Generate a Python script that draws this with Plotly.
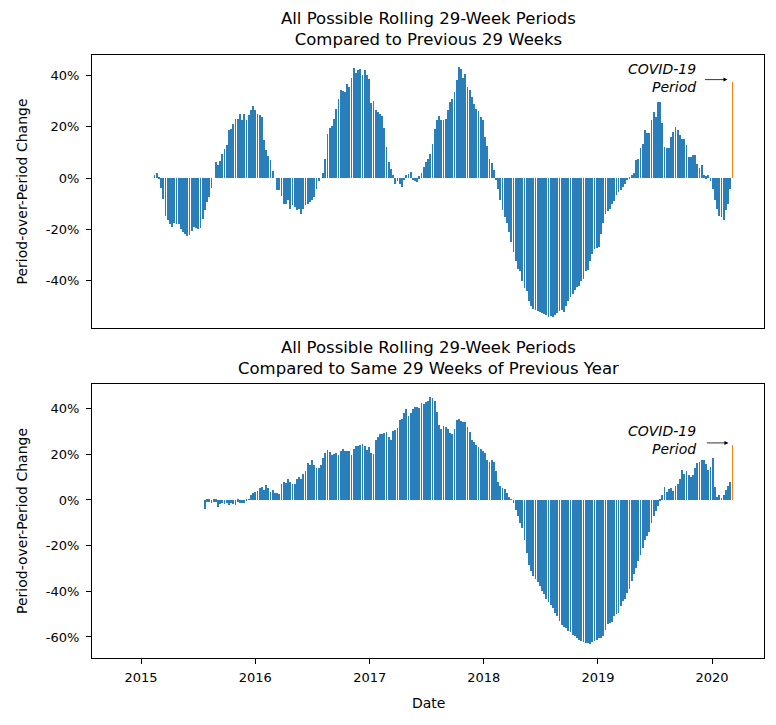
import pandas as pd
import plotly.graph_objects as go

# ---------------- data (percent change, weekly) ----------------
END_DATE = "2020-03-06"

top_part_a = [1, 2, 0.3, -4, -8, -15, -16.5, -18, -19, -17.6, -18, -18, -20, -21, -22, -22.7, -22.4, -20.5, -19, -19.4,
              -19.8, -19.4, -16, -12.6, -9.4, -7.4, -4, 0, 6.3, 5.2, 6.5, 9.5, 11.5, 12.8, 18.6, 19.3, 20.9, 23.2, 23.2, 24.9,
              22.6, 24.9, 22.6, 24.5, 26.7, 28, 26.7, 24.9, 24.5, 23.9, 14.7, 10.8, 8.5, 6.9, 2.6, 0, -4.8, -4.8, -7.2, -10,
              -10.3, -8.7]
top_part_b = [-12, -10.7, -11.3, -12.6, -12, -14, -12, -10.7, -10, -9.4, -8.7, -7.4, -4.2, -1, 0, 2, 7.6, 17, 19.7, 20.2,
              23.2, 27, 31, 34.3, 33.9, 33.6, 36.5, 35.6, 38.9, 42.8, 41, 42.1, 42.4, 40.2, 42.1, 40.2, 38.5, 29.3, 30.1, 26.5,
              25.8, 24.9, 24.1, 19.7, 12.1, 6.3, 3.7, 1, -2.2, -1, -2.2, -3.5, -0.7, 1, 1.7, 2.3, -0.7, -1, -1.6, 0.7,
              2.1, 4.3, 6.3, 7.6, 9.5, 13.4]
top_part_c = [19.3, 22.6, 24.1, 22.8, 22.8, 23.2, 26.5, 29.7, 31, 33.6, 38.2, 43.2, 42.4, 38.9, 40.5, 35.6, 34.3, 31.7, 28.7, 27.1,
              26.2, 23.9, 22.8, 16, 12.4, 7.6, 5.9, 3, -0.7, -4.2, -8.7, -12.6, -15.3, -17.6, -21.1, -25, -28.9, -32.2, -35.5, -36.1,
              -40, -42.9, -44.2, -47.8, -49.8, -51.1, -51.5, -51.8, -52.4, -52.8, -53.1, -53.3, -54.1, -53.7, -54.1, -53.3, -52.8, -52, -51.5, -52.4,
              -49.8, -47.8, -46.5, -45.2, -43.7, -42.6]
top_part_d = [-42, -40, -39.4, -36.1, -35.9, -32.2, -29.6, -27.6, -27.2, -27, -21.8, -17.6, -14, -12.9, -12, -10, -9, -6.8, -5.5, -4.8,
              -3.5, -2.2, -0.9, 0.3, 1.3, 2, 6.9, 7.6, 11.9, 13.2, 18.6, 17.6, 17.6, 22.6, 25.8, 23.9, 29.6, 29.5, 21.3, 12.1,
              11.9, 11.9, 16, 18, 20, 18.6, 16.7, 15.4, 15.4, 12.8, 8.2, 8.2, 8.9, 8.9, 5.6, 4, 5, 1, 0.7, 1,
              -1, -4.2, -8.5, -12, -15, -15.3, -16.3, -12.6, -10, -4.2]
top_covid = 37.5

bot_part_a = [-4, -0.7, -0.7, -1.2, -0.7, -0.7, -3.2, -1.7, -1.2, -1.7, -1.2, -2.2, -1.2, -1.7, -2.2, -0.7, -1.2, -1.4, -1.2, -0.3,
              0.3, 2.2, 3.2, 3.6, 3.9, 5.1, 5.8, 4.3, 6.5, 5.1, 3.6, 4.3, 2.9, 3.2, 2.6, 7.2, 8, 7.5, 9, 8,
              7.2, 7, 9, 9.9, 9, 11.6, 12.8, 16.2, 15.2, 17.4, 15.2, 14.2, 13.8, 15.2, 18.6, 20.6, 21.7, 21]
bot_part_b = [19.6, 20, 20.6, 19.6, 21.4, 22.5, 21.3, 21.3, 21.3, 19.6, 22.5, 23.5, 23.6, 23.9, 24.6, 23.6, 22, 23.2, 20.6, 20,
              26.4, 27.8, 29, 29, 29.3, 29.7, 27.5, 26.4, 30.4, 30.7, 31.6, 35.1, 35.5, 38.1, 39.9, 37, 38, 39.9, 40.6, 40.9,
              40.3, 42.3, 42, 42.8, 43.5, 44.9, 44.6, 43.2, 38.4, 33, 31.2, 32.2, 31.9, 31.2, 29.3, 28.7, 31.2, 35.1, 35.5, 34.8,
              34.1]
bot_part_c = [34, 31.9, 29.7, 26.4, 25.4, 23.9, 23.2, 22.5, 21.4, 20.6, 17.7, 16.7, 17.4, 16.7, 12.8, 8, 6.1, 5.1, 4.6, 2.9,
              1.4, 0.3, -1.4, -4.3, -7.2, -10.1, -12.3, -17.4, -23.2, -28.3, -31.2, -33.3, -34.8, -35.9, -37.7, -39.9, -41.3, -43.5, -44.6, -46.1,
              -47.5, -49.3, -51, -52.9, -54.8, -55.8, -56.2, -57.2, -58, -59.1, -59.7, -60.6, -61.2, -61.6, -62.3, -62.6, -62.8, -63, -62.3, -61.6,
              -61.2]
bot_part_d = [-60.6, -60.6, -59.4, -56.8, -54.3, -53.9, -53.3, -51, -50, -49.3, -46.4, -44.2, -43.2, -40.6, -38.8, -35.5, -32.6, -29.7, -26.8, -23.9,
              -21, -17.4, -15.9, -13.8, -10.1, -7.2, -4.6, -2.6, -0.3, 2.2, 5.5, 3.6, 4.6, 5.1, 4.1, 6.1, 7, 9.4, 13, 11.6,
              12.8, 10.9, 10.1, 10.9, 13.8, 16.2, 16.7, 17.4, 17.7, 15.9, 13, 14.5, 18.6, 5.8, 1.5, 2.2, 0.7, 2.2, 4.3, 6.1,
              8]
bot_covid = 24.2

top_title = "All Possible Rolling 29-Week Periods<br>Compared to Previous 29 Weeks"
bot_title = "All Possible Rolling 29-Week Periods<br>Compared to Same 29 Weeks of Previous Year"
y_label = "Period-over-Period Change"
x_label = "Date"
covid_label = "<i>COVID-19<br>Period</i>"
top_yticks = [-40, -20, 0, 20, 40]
top_yticklabels = ["-40%", "-20%", "0%", "20%", "40%"]
bot_yticks = [-60, -40, -20, 0, 20, 40]
bot_yticklabels = ["-60%", "-40%", "-20%", "0%", "20%", "40%"]

# ---------------- build ----------------
top_hist = top_part_a + top_part_b + top_part_c + top_part_d
bot_hist = bot_part_a + bot_part_b + bot_part_c + bot_part_d
top_vals = top_hist + [top_covid]
bot_vals = bot_hist + [bot_covid]
top_dates = pd.date_range(end=END_DATE, periods=len(top_vals), freq="7D")
bot_dates = pd.date_range(end=END_DATE, periods=len(bot_vals), freq="7D")

BLUE = "#2a7fba"
ORANGE = "#ff7f0e"
BAR_W = 2.6 * 86400000
FONT = "DejaVu Sans"

fig = go.Figure()
fig.add_trace(go.Bar(x=top_dates[:-1], y=top_hist, marker=dict(color=BLUE, line=dict(width=0)),
                     width=BAR_W, xaxis="x", yaxis="y", showlegend=False))
fig.add_trace(go.Bar(x=top_dates[-1:], y=[top_covid], marker=dict(color=ORANGE, line=dict(width=0)),
                     width=BAR_W, xaxis="x", yaxis="y", showlegend=False))
fig.add_trace(go.Bar(x=bot_dates[:-1], y=bot_hist, marker=dict(color=BLUE, line=dict(width=0)),
                     width=BAR_W, xaxis="x2", yaxis="y2", showlegend=False))
fig.add_trace(go.Bar(x=bot_dates[-1:], y=[bot_covid], marker=dict(color=ORANGE, line=dict(width=0)),
                     width=BAR_W, xaxis="x2", yaxis="y2", showlegend=False))

XRANGE = ["2014-07-28", "2020-06-15"]
TOP_DOM = [0.5473, 1.0]
BOT_DOM = [0.0, 0.4544]

axis_common = dict(showline=True, linecolor="black", linewidth=1, mirror=True,
                   showgrid=False, zeroline=False, ticks="outside", ticklen=5,
                   tickcolor="black", tickwidth=1, automargin=False,
                   tickfont=dict(family=FONT, size=13, color="black"))

# page body has an 8px margin, so the figure is 8px smaller and margins shifted
fig.update_layout(
    width=768, height=717,
    margin=dict(l=84, r=12, t=47, b=67),
    paper_bgcolor="white", plot_bgcolor="white",
    font=dict(family=FONT, color="black"),
    bargap=0,
    xaxis=dict(axis_common, range=XRANGE, type="date", anchor="y", ticks="", showticklabels=False),
    yaxis=dict(axis_common, domain=TOP_DOM, range=[-58.5, 48], anchor="x",
               tickmode="array", tickvals=top_yticks, ticktext=top_yticklabels, ticklabelstandoff=4),
    xaxis2=dict(axis_common, range=XRANGE, type="date", anchor="y2",
                tick0="2015-01-01", dtick="M12", tickformat="%Y", ticklabelstandoff=2),
    yaxis2=dict(axis_common, domain=BOT_DOM, range=[-69.2, 50.8], anchor="x2",
                tickmode="array", tickvals=bot_yticks, ticktext=bot_yticklabels, ticklabelstandoff=4),
)

annos = []
for txt, dom in [(top_title, TOP_DOM), (bot_title, BOT_DOM)]:
    annos.append(dict(text=txt, xref="paper", yref="paper", x=0.5, y=dom[1],
                      xanchor="center", yanchor="bottom", yshift=4, showarrow=False,
                      font=dict(family=FONT, size=16.5, color="black")))
    annos.append(dict(text=y_label, xref="paper", yref="paper", x=0, y=(dom[0] + dom[1]) / 2,
                      xanchor="center", yanchor="middle", xshift=-70, textangle=-90, showarrow=False,
                      font=dict(family=FONT, size=14, color="black")))
annos.append(dict(text=x_label, xref="paper", yref="paper", x=0.5, y=0,
                  xanchor="center", yanchor="middle", yshift=-45, showarrow=False,
                  font=dict(family=FONT, size=14, color="black")))

annos.append(dict(text=covid_label, xref="x", yref="y", x="2019-11-16", y=39.2,
                  xanchor="right", yanchor="middle", align="right", showarrow=False,
                  font=dict(family=FONT, size=14, color="black")))
annos.append(dict(text="", xref="x", yref="y", x=top_dates[-1], y=38.4, ax=-29, ay=0,
                  showarrow=True, arrowhead=2, arrowsize=1, arrowwidth=0.8, arrowcolor="black", standoff=5))
annos.append(dict(text=covid_label, xref="x2", yref="y2", x="2019-11-16", y=26.3,
                  xanchor="right", yanchor="middle", align="right", showarrow=False,
                  font=dict(family=FONT, size=14, color="black")))
annos.append(dict(text="", xref="x2", yref="y2", x=bot_dates[-1], y=25.0, ax=-27, ay=0,
                  showarrow=True, arrowhead=2, arrowsize=1, arrowwidth=0.8, arrowcolor="black", standoff=4))

fig.update_layout(annotations=annos)
fig.write_html("out.html")
